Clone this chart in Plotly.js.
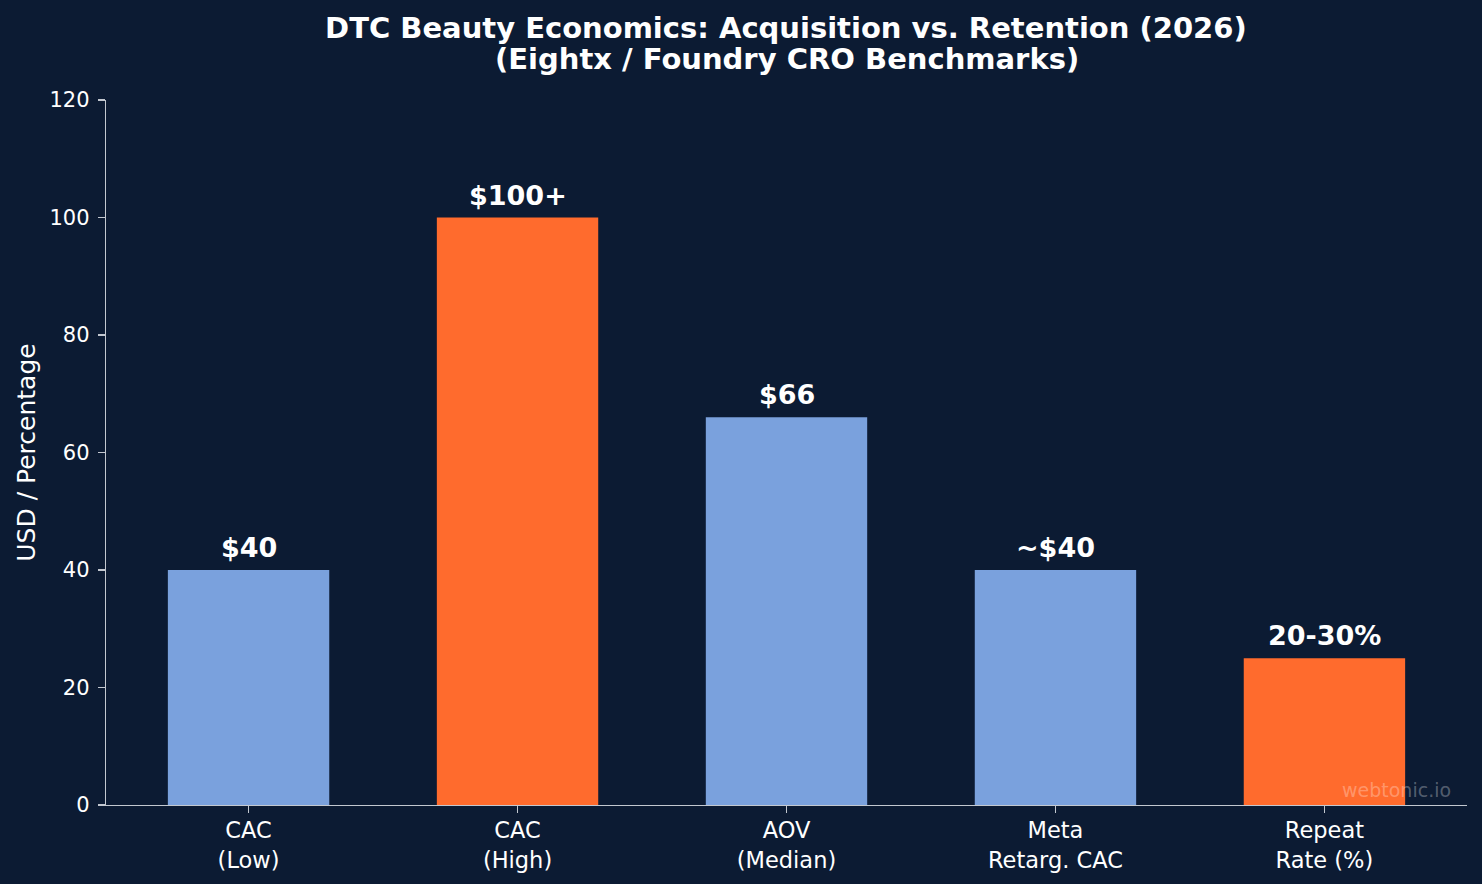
<!DOCTYPE html>
<html>
<head>
<meta charset="utf-8">
<script src="https://cdn.plot.ly/plotly-3.0.1.min.js"></script>
<style>
  html, body { margin: 0; padding: 0; background: #0c1b33; }
  #chart { width: 1482px; height: 884px; }
</style>
</head>
<body>
<div id="chart"></div>
<script>
// Benchmark metrics for DTC beauty brands
const categories = ["CAC<br>(Low)", "CAC<br>(High)", "AOV<br>(Median)", "Meta<br>Retarg. CAC", "Repeat<br>Rate (%)"];
const values = [40, 100, 66, 40, 25];
const valueLabels = ["$40", "$100+", "$66", "~$40", "20-30%"];
const barColors = ["#7aa1dd", "#ff6b2d", "#7aa1dd", "#7aa1dd", "#ff6b2d"];
const yTicks = [0, 20, 40, 60, 80, 100, 120];
const titleLines = ["DTC Beauty Economics: Acquisition vs. Retention (2026)", "(Eightx / Foundry CRO Benchmarks)"];

const bg = "#0c1b33";
const axisColor = "#c3c8d0";
const font = "DejaVu Sans, sans-serif";
const xIdx = categories.map((_, i) => i);

const trace = {
  type: "bar",
  x: xIdx,
  y: values,
  width: 0.6,
  marker: { color: barColors, line: { width: 0 } },
  hoverinfo: "skip"
};

const labelNotes = values.map((v, i) => ({
  x: i, y: v, xref: "x", yref: "y",
  text: "<b>" + valueLabels[i] + "</b>",
  showarrow: false, yanchor: "bottom", yshift: 5,
  font: { family: font, size: 27, color: "#ffffff" }
}));

// second title line, kept tight under the first
const subtitleNote = {
  x: 0.5, y: 1.0582, xref: "paper", yref: "paper",
  xanchor: "center", yanchor: "middle",
  text: "<b>" + titleLines[1] + "</b>", showarrow: false,
  font: { family: font, size: 29, color: "#ffffff" }
};

const layout = {
  width: 1482, height: 884,
  paper_bgcolor: bg, plot_bgcolor: bg,
  margin: { l: 106, r: 15, t: 100, b: 79 },
  showlegend: false,
  font: { family: font, color: "#ffffff" },
  title: {
    text: "<b>" + titleLines[0] + "</b>",
    font: { family: font, size: 29, color: "#ffffff" },
    x: 0.5303, xanchor: "center", y: 0.9683, yanchor: "middle"
  },
  xaxis: {
    range: [-0.53, 4.53],
    tickmode: "array", tickvals: xIdx, ticktext: categories,
    showgrid: false, zeroline: false,
    showline: true, linecolor: axisColor, linewidth: 1.3,
    ticks: "outside", ticklen: 7, tickwidth: 1.3, tickcolor: axisColor,
    ticklabelstandoff: -2,
    tickfont: { family: font, size: 22.5, color: "#ffffff" }
  },
  yaxis: {
    range: [0, 120],
    tickmode: "array", tickvals: yTicks,
    showgrid: false, zeroline: false,
    showline: true, linecolor: axisColor, linewidth: 1.3,
    ticks: "outside", ticklen: 7, tickwidth: 1.3, tickcolor: axisColor,
    ticklabelstandoff: 4,
    tickfont: { family: font, size: 21, color: "#ffffff" },
    title: { text: "USD / Percentage", font: { family: font, size: 25, color: "#ffffff" }, standoff: 6 }
  },
  annotations: labelNotes.concat([subtitleNote, {
    x: 0.99, y: 0.003, xref: "paper", yref: "paper",
    xanchor: "right", yanchor: "bottom",
    text: "webtonic.io", showarrow: false,
    font: { family: font, size: 19, color: "rgba(255,255,255,0.3)" }
  }])
};

Plotly.newPlot("chart", [trace], layout, { displayModeBar: false, staticPlot: true });
</script>
</body>
</html>
